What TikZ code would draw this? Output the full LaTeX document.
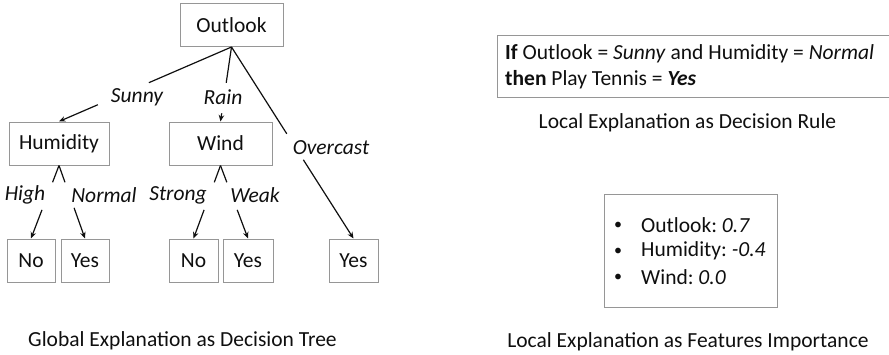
\documentclass[tikz,border=0pt]{standalone}
\usepackage{fontspec}
\setmainfont{Carlito}
\usetikzlibrary{arrows.meta}
\frenchspacing
\definecolor{boxline}{RGB}{150,150,150}
\definecolor{ink}{RGB}{15,15,15}
\tikzset{
  every node/.style={font=\fontsize{21.5}{26}\selectfont, text=ink},
  treebox/.style={draw=boxline, line width=1pt, inner sep=0pt, minimum height=43pt},
  edgelbl/.style={font=\fontsize{21.5}{26}\selectfont\itshape, inner sep=0pt},
  link/.style={draw=ink, line width=1.2pt},
  tip/.style={link, -{Stealth[length=6.5pt,width=5.5pt]}},
  caption/.style={inner sep=0pt},
  bulletmark/.style={anchor=center, inner sep=0pt, font=\fontsize{16}{20}\selectfont},
}
\begin{document}
\begin{tikzpicture}[x=1pt,y=-1pt]
\useasboundingbox (0,0) rectangle (889,354);

% ---- decision tree ----
\node[treebox, minimum width=103pt] (outlook) at (231.5,25) {Outlook};
\node[treebox, minimum width=100pt] (humidity) at (59,143.5) {Humidity};
\node[treebox, minimum width=103pt] (wind) at (220.5,143.5) {Wind};
\node[treebox, minimum width=48pt] (no1) at (31,260.5) {No};
\node[treebox, minimum width=48pt] (yes1) at (85,260.5) {Yes};
\node[treebox, minimum width=49pt] (no2) at (193.5,260.5) {No};
\node[treebox, minimum width=50pt] (yes2) at (248,260.5) {Yes};
\node[treebox, minimum width=49pt] (yes3) at (353.5,260.5) {Yes};

% branch labels
\node[edgelbl] (sunny) at (137,97) {Sunny};
\node[edgelbl] (rain) at (223,97) {Rain};
\node[edgelbl] (overcast) at (331,148) {Overcast};
\node[edgelbl] (high) at (25,195) {High};
\node[edgelbl] (normal) at (104,195) {Normal};
\node[edgelbl] (strong) at (178,195) {Strong};
\node[edgelbl] (weak) at (255,195) {Weak};

% branches: each edge is broken where its label sits
\path (outlook.south) -- coordinate[pos=0.479] (s1) coordinate[pos=0.775] (s2) (humidity.north);
\draw[link] (outlook.south) -- (s1);
\draw[tip] (s2) -- (humidity.north);

\path (outlook.south) -- coordinate[pos=0.48] (r1) coordinate[pos=0.89] (r2) (wind.north);
\draw[link] (outlook.south) -- (r1);
\draw[tip] (r2) -- (wind.north);

\path (outlook.south) -- coordinate[pos=0.453] (o1) coordinate[pos=0.589] (o2) (yes3.north);
\draw[link] (outlook.south) -- (o1);
\draw[tip] (o2) -- (yes3.north);

\path (humidity.south) -- coordinate[pos=0.23] (h1) coordinate[pos=0.608] (h2) (no1.north);
\draw[link] (humidity.south) -- (h1);
\draw[tip] (h2) -- (no1.north);

\path (humidity.south) -- coordinate[pos=0.23] (n1) coordinate[pos=0.58] (n2) (yes1.north);
\draw[link] (humidity.south) -- (n1);
\draw[tip] (n2) -- (yes1.north);

\path (wind.south) -- coordinate[pos=0.23] (g1) coordinate[pos=0.608] (g2) (no2.north);
\draw[link] (wind.south) -- (g1);
\draw[tip] (g2) -- (no2.north);

\path (wind.south) -- coordinate[pos=0.23] (w1) coordinate[pos=0.608] (w2) (yes2.north);
\draw[link] (wind.south) -- (w1);
\draw[tip] (w2) -- (yes2.north);

\node[caption] (treecap) at (182.5,341) {Global Explanation as Decision Tree};

% ---- decision rule ----
\draw[draw=boxline, line width=1pt] (497,35) rectangle (892,97);
\node[anchor=west, align=left, inner sep=0pt] (rule) at (505,67)
  {\textbf{If} Outlook = \textit{Sunny} and Humidity = \textit{Normal}\\
   \textbf{then} Play Tennis = \textbf{\textit{Yes}}};
\node[caption] (rulecap) at (687.5,123) {Local Explanation as Decision Rule};

% ---- feature importance ----
\node[draw=boxline, line width=1pt, minimum width=173pt, minimum height=113pt, inner sep=0pt] (featbox) at (690.5,250.5) {};
\node[bulletmark] (b1) at (618,226) {\textbullet};
\node[bulletmark] (b2) at (618,252) {\textbullet};
\node[bulletmark] (b3) at (618,278) {\textbullet};
\node[anchor=west, inner sep=0pt] (f1) at (641,225) {Outlook: \textit{0.7}};
\node[anchor=west, inner sep=0pt] (f2) at (641,251) {Humidity: \textit{-0.4}};
\node[anchor=west, inner sep=0pt] (f3) at (641,277) {Wind: \textit{0.0}};
\node[caption] (featcap) at (688,342) {Local Explanation as Features Importance};
\end{tikzpicture}
\end{document}
